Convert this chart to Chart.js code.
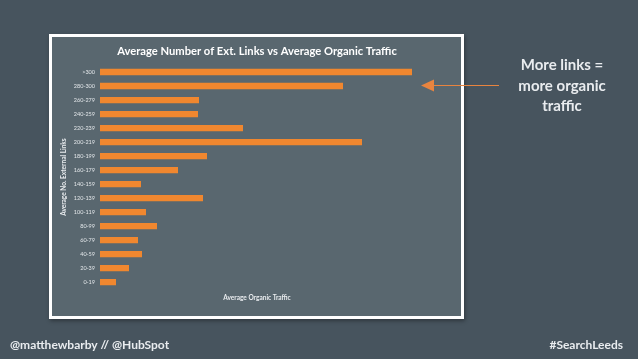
<!DOCTYPE html>
<html>
<head>
<meta charset="utf-8">
<script src="https://cdn.jsdelivr.net/npm/chart.js@4"></script>
<style>
  html, body { margin: 0; padding: 0; background: #47545e; }
  canvas { display: block; }
</style>
</head>
<body>
<canvas id="chart" width="638" height="359"></canvas>
<script>
// link buckets, top to bottom as on the slide
const linkBuckets = ['>300', '280-300', '260-279', '240-259', '220-239', '200-219', '180-199', '160-179',
  '140-159', '120-139', '100-119', '80-99', '60-79', '40-59', '20-39', '0-19'];
// average organic traffic (relative)
const organicTraffic = [312, 243, 99, 98, 143, 262, 107, 78, 41, 103, 46, 57, 38, 42, 29, 16];

const chartTitle = 'Average Number of Ext. Links vs Average Organic Traffic';
const calloutLines = ['More links =', 'more organic', 'traffic'];
const footerLeft = '@matthewbarby // @HubSpot';
const footerRight = '#SearchLeeds';

const slideColors = {
  outer: '#47545e',
  inner: '#59676f',
  frame: '#ffffff',
  bar: '#f0872f',
  text: '#e9ecef'
};

// slide background, white frame, title, callout arrow and footer
const slidePlugin = {
  id: 'slide',
  beforeDraw(chart) {
    const ctx = chart.ctx;
    ctx.save();
    ctx.fillStyle = slideColors.outer;
    ctx.fillRect(0, 0, chart.width, chart.height);
    ctx.shadowColor = 'rgba(0,0,0,0.35)';
    ctx.shadowBlur = 4;
    ctx.shadowOffsetX = 1;
    ctx.shadowOffsetY = 2;
    ctx.fillStyle = slideColors.frame;
    ctx.fillRect(49, 34, 415, 285);
    ctx.restore();
    ctx.save();
    ctx.fillStyle = slideColors.inner;
    ctx.fillRect(52, 37, 409, 279);

    ctx.fillStyle = '#ffffff';
    ctx.font = 'bold 11.2px Lato';
    ctx.textAlign = 'center';
    ctx.textBaseline = 'middle';
    ctx.fillText(chartTitle, 257, 51);
    ctx.restore();
  },
  afterDraw(chart) {
    const ctx = chart.ctx;
    ctx.save();
    // arrow
    ctx.strokeStyle = '#e8843f';
    ctx.fillStyle = '#e8843f';
    ctx.lineWidth = 1.2;
    ctx.beginPath();
    ctx.moveTo(499, 85.5);
    ctx.lineTo(430, 85.5);
    ctx.stroke();
    ctx.beginPath();
    ctx.moveTo(421, 85.5);
    ctx.lineTo(434, 79.5);
    ctx.lineTo(434, 91.5);
    ctx.closePath();
    ctx.fill();

    // callout text
    ctx.fillStyle = slideColors.text;
    ctx.font = 'bold 15px Lato';
    ctx.textAlign = 'center';
    ctx.textBaseline = 'middle';
    calloutLines.forEach((line, i) => ctx.fillText(line, 562, 65.5 + i * 20.5));

    // footer
    ctx.font = 'bold 12px Lato';
    ctx.textAlign = 'left';
    ctx.fillText(footerLeft, 10, 345);
    ctx.textAlign = 'right';
    ctx.fillText(footerRight, 623, 345);
    ctx.restore();
  }
};

new Chart(document.getElementById('chart'), {
  type: 'bar',
  data: {
    labels: linkBuckets,
    datasets: [{
      label: 'Average Organic Traffic',
      data: organicTraffic,
      backgroundColor: slideColors.bar,
      borderWidth: 0,
      barPercentage: 0.45,
      categoryPercentage: 1
    }]
  },
  options: {
    indexAxis: 'y',
    responsive: false,
    animation: false,
    layout: {
      padding: { left: 52, right: 224, top: 65, bottom: 57 }
    },
    plugins: {
      legend: { display: false },
      tooltip: { enabled: false },
      title: { display: false }
    },
    scales: {
      x: {
        min: 0,
        max: 314,
        grid: { display: false, drawTicks: false },
        border: { display: false },
        ticks: { display: false },
        title: {
          display: true,
          text: 'Average Organic Traffic',
          color: '#e9ecef',
          font: { family: 'Lato', size: 6.5, weight: 'bold' },
          padding: { top: 5, bottom: 0 }
        }
      },
      y: {
        grid: { display: false, drawTicks: false },
        border: { display: false },
        afterFit(scale) { scale.width = 48; },
        ticks: {
          color: '#e3e7ea',
          font: { family: 'Lato', size: 5.5 },
          padding: 5,
          autoSkip: false
        },
        title: {
          display: true,
          text: 'Average No. External Links',
          color: '#e9ecef',
          font: { family: 'Lato', size: 6.5, weight: 'bold' },
          padding: { top: 8, bottom: 0 }
        }
      }
    }
  },
  plugins: [slidePlugin]
});
</script>
</body>
</html>
